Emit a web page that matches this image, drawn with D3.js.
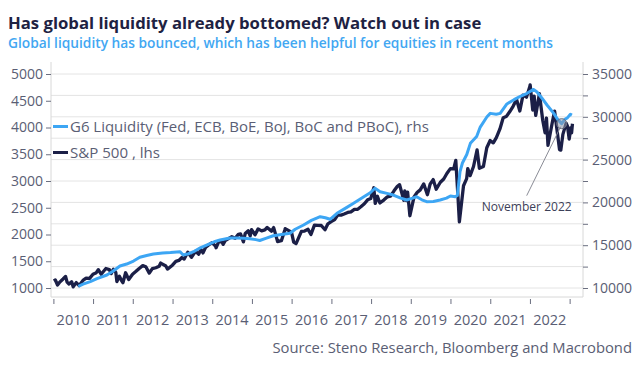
<!DOCTYPE html>
<html><head><meta charset="utf-8">
<script src="https://cdn.jsdelivr.net/npm/d3@7"></script>
<style>
body{margin:0;background:#fff;}
svg{display:block;font-family:'Open Sans','Noto Sans',sans-serif;}
</style>
</head><body>
<svg id="chart" width="642" height="367"></svg>
<script>
const titleText = "Has global liquidity already bottomed? Watch out in case";
const subtitleText = "Global liquidity has bounced, which has been helpful for equities in recent months";
const sourceText = "Source: Steno Research, Bloomberg and Macrobond";
const legendLabels = ["G6 Liquidity (Fed, ECB, BoE, BoJ, BoC and PBoC), rhs", "S&P 500 , lhs"];
const leftTicks = [1000,1500,2000,2500,3000,3500,4000,4500,5000];
const rightTicks = [10000,15000,20000,25000,30000,35000];
const rightMinorTicks = [10000,12500,15000,17500,20000,22500,25000,27500,30000,32500,35000];
const yearTicks = [2010,2011,2012,2013,2014,2015,2016,2017,2018,2019,2020,2021,2022];

// S&P 500 (lhs)
const spx = [
["2010-01-04",1133],["2010-01-19",1150],["2010-02-08",1056],["2010-02-26",1104],["2010-03-31",1169],["2010-04-23",1217],["2010-05-07",1111],["2010-05-25",1074],["2010-06-18",1117],["2010-07-02",1022],["2010-07-30",1101],["2010-08-26",1047],["2010-09-30",1141],["2010-10-29",1183],["2010-11-30",1180],["2010-12-31",1258],
["2011-01-31",1286],["2011-02-18",1343],["2011-03-16",1257],["2011-04-29",1364],["2011-05-31",1345],["2011-06-16",1268],["2011-07-07",1353],["2011-07-29",1292],["2011-08-08",1119],["2011-08-31",1219],["2011-09-22",1129],["2011-10-03",1099],["2011-10-27",1285],["2011-11-25",1159],["2011-12-30",1258],
["2012-01-31",1312],["2012-02-29",1366],["2012-04-02",1419],["2012-04-30",1398],["2012-06-01",1278],["2012-06-29",1362],["2012-07-31",1379],["2012-08-31",1407],["2012-09-14",1466],["2012-10-31",1412],["2012-11-15",1353],["2012-12-31",1426],
["2013-01-31",1498],["2013-02-28",1515],["2013-03-28",1569],["2013-04-18",1541],["2013-05-21",1669],["2013-06-24",1573],["2013-07-31",1686],["2013-08-30",1633],["2013-09-18",1725],["2013-10-08",1656],["2013-10-31",1757],["2013-11-29",1806],["2013-12-31",1848],
["2014-01-31",1783],["2014-02-05",1752],["2014-02-28",1859],["2014-03-31",1872],["2014-04-11",1816],["2014-04-30",1884],["2014-05-30",1924],["2014-06-30",1960],["2014-07-31",1931],["2014-08-29",2003],["2014-09-18",2011],["2014-10-15",1862],["2014-10-31",2018],["2014-11-28",2068],["2014-12-16",1973],["2014-12-29",2091],
["2015-01-30",1995],["2015-02-27",2105],["2015-03-31",2068],["2015-04-30",2086],["2015-05-21",2131],["2015-06-30",2063],["2015-07-20",2129],["2015-08-25",1868],["2015-09-29",1884],["2015-10-30",2079],["2015-11-03",2109],["2015-12-31",2044],
["2016-01-20",1859],["2016-02-11",1829],["2016-03-31",2060],["2016-04-29",2065],["2016-05-31",2097],["2016-06-27",2001],["2016-07-29",2174],["2016-08-31",2171],["2016-09-30",2168],["2016-11-03",2088],["2016-11-30",2199],["2016-12-30",2239],
["2017-01-31",2279],["2017-02-28",2364],["2017-03-31",2363],["2017-04-28",2384],["2017-05-31",2412],["2017-06-30",2423],["2017-07-31",2470],["2017-08-31",2472],["2017-09-29",2519],["2017-10-31",2575],["2017-11-30",2648],["2017-12-29",2674],
["2018-01-26",2873],["2018-02-08",2581],["2018-02-28",2714],["2018-03-23",2588],["2018-04-30",2648],["2018-05-31",2705],["2018-06-29",2718],["2018-07-31",2816],["2018-08-31",2902],["2018-09-20",2931],["2018-10-29",2641],["2018-11-07",2814],["2018-11-23",2633],["2018-12-03",2790],["2018-12-24",2351],
["2019-01-31",2704],["2019-02-28",2784],["2019-03-29",2834],["2019-04-30",2946],["2019-06-03",2744],["2019-06-28",2942],["2019-07-26",3026],["2019-08-23",2847],["2019-09-30",2977],["2019-10-31",3038],["2019-11-29",3141],["2019-12-31",3231],
["2020-01-31",3226],["2020-02-19",3386],["2020-03-09",2747],["2020-03-23",2237],["2020-04-30",2912],["2020-05-29",3044],["2020-06-08",3232],["2020-06-30",3100],["2020-07-31",3271],["2020-09-02",3580],["2020-09-23",3237],["2020-10-30",3270],["2020-11-30",3622],["2020-12-31",3756],
["2021-01-29",3714],["2021-02-26",3811],["2021-03-31",3973],["2021-04-30",4181],["2021-05-28",4204],["2021-06-30",4298],["2021-07-30",4395],["2021-08-31",4523],["2021-09-30",4308],["2021-10-29",4605],["2021-11-30",4567],["2021-12-31",4766],
["2022-01-03",4797],["2022-01-27",4326],["2022-02-09",4587],["2022-02-23",4225],["2022-03-29",4632],["2022-04-29",4132],["2022-05-20",3901],["2022-06-02",4177],["2022-06-16",3667],["2022-07-29",4130],["2022-08-16",4305],["2022-09-30",3586],["2022-10-12",3577],["2022-10-31",3872],["2022-11-30",4080],["2022-12-13",4019],["2022-12-28",3783],["2023-01-13",3999],["2023-01-19",3899],["2023-01-27",4070]
];

// G6 Liquidity (rhs)
const liquidity = [
["2010-08-18",10200],["2010-10-01",10450],["2010-12-06",10740],["2011-02-06",11100],["2011-05-08",11520],["2011-07-02",11950],["2011-09-05",12570],["2011-11-06",12800],
["2012-01-08",13150],["2012-03-06",13590],["2012-05-08",13800],["2012-07-09",13970],["2012-10-01",14100],["2012-12-13",14150],
["2013-03-11",14240],["2013-04-09",13850],["2013-05-27",14000],["2013-07-13",14240],["2013-09-13",14700],["2013-11-10",15020],
["2014-01-19",15400],["2014-03-14",15600],["2014-06-13",15850],["2014-08-14",15850],["2014-10-19",15800],["2014-12-13",15750],
["2015-02-06",15650],["2015-03-14",15550],["2015-05-08",15800],["2015-07-16",16100],["2015-10-01",16250],["2015-12-17",16390],
["2016-02-03",16860],["2016-04-20",17360],["2016-07-01",17900],["2016-09-20",18330],["2016-11-06",18200],["2016-12-20",18030],
["2017-02-21",18730],["2017-05-08",19300],["2017-07-24",19900],["2017-10-19",20600],["2017-12-24",21130],
["2018-02-06",21650],["2018-03-25",21250],["2018-05-27",21050],["2018-07-24",20860],["2018-10-01",20500],["2018-11-24",20280],
["2019-01-19",20500],["2019-02-24",20670],["2019-04-13",20300],["2019-05-27",20080],["2019-07-28",20100],["2019-09-28",20280],["2019-11-25",20500],
["2020-01-01",20750],["2020-02-14",20670],["2020-03-04",20800],["2020-03-29",23600],["2020-04-20",24600],["2020-05-30",25600],["2020-07-02",26900],["2020-08-29",27700],["2020-10-01",28800],["2020-12-02",30000],
["2021-01-01",30400],["2021-02-25",30300],["2021-04-02",30400],["2021-06-03",31500],["2021-08-08",32000],["2021-10-05",32400],["2021-12-06",32750],
["2022-02-03",33200],["2022-03-07",32900],["2022-04-20",32200],["2022-06-07",31380],["2022-08-08",30400],["2022-09-13",29700],["2022-10-20",29200],["2022-11-18",29700],["2022-12-13",29900],["2023-01-08",30300],["2023-01-22",30200]
];

const annotationPoint = {date:"2022-10-20", value:29200, label:"November 2022"};

const colors = {spx:"#1b1f47", liq:"#3da6f4", axisText:"#5a5e74", grid:"#e4e4e4", frame:"#d8d8d8", tick:"#6b6f80", title:"#1e2242", subtitle:"#42a7f2"};

const parse = d3.timeParse("%Y-%m-%d");
const svg = d3.select("#chart");
const plot = {left:51, right:583, top:62, bottom:297};

const x = d3.scaleTime().domain([parse("2009-12-10"), parse("2023-05-04")]).range([plot.left, plot.right]);
const yL = d3.scaleLinear().domain([831.8, 5224.3]).range([plot.bottom, plot.top]);
const yR = d3.scaleLinear().domain([8948.6, 36401.9]).range([plot.bottom, plot.top]);

function fit(sel, target){
  const n = sel.node();
  const w = n.getComputedTextLength();
  const fs = parseFloat(sel.attr("font-size"));
  sel.attr("font-size", (fs*target/w).toFixed(2));
}

// Titles
fit(svg.append("text").attr("x",8).attr("y",28.5).attr("font-size",18).attr("font-weight",700)
  .attr("fill",colors.title).text(titleText), 474);
fit(svg.append("text").attr("x",8).attr("y",47.5).attr("font-size",13).attr("font-weight",600)
  .attr("fill",colors.subtitle).text(subtitleText), 545);

// Gridlines
svg.append("g").selectAll("line").data(rightMinorTicks).join("line")
  .attr("x1",plot.left).attr("x2",plot.right)
  .attr("y1",d=>yR(d)).attr("y2",d=>yR(d))
  .attr("stroke",colors.grid).attr("stroke-width",1);

// Frame
svg.append("path").attr("d",`M${plot.left},${plot.top}V${plot.bottom}H${plot.right}V${plot.top}`)
  .attr("fill","none").attr("stroke",colors.frame).attr("stroke-width",1);

// Left axis
const gL = svg.append("g").attr("transform",`translate(${plot.left},0)`)
  .call(d3.axisLeft(yL).tickValues(leftTicks).tickSize(5).tickPadding(3).tickFormat(d3.format("d")));
// Right axis
const gR = svg.append("g").attr("transform",`translate(${plot.right},0)`)
  .call(d3.axisRight(yR).tickValues(rightMinorTicks).tickSize(5).tickPadding(4)
    .tickFormat(d => rightTicks.includes(d) ? d3.format("d")(d) : ""));
// Bottom axis: ticks at year starts, labels mid-year
const yearDates = yearTicks.map(y=>new Date(y,0,1)).concat([new Date(2023,0,1)]);
const gB = svg.append("g").attr("transform",`translate(0,${plot.bottom+2})`)
  .call(d3.axisBottom(x).tickValues(yearDates).tickSize(5).tickFormat(""));
svg.append("g").selectAll("text").data(yearTicks).join("text")
  .attr("x",d=>x(new Date(d,6,2))).attr("y",324.5).attr("text-anchor","middle")
  .attr("font-size",14.5).attr("fill",colors.axisText).text(d=>d);

[gL,gR,gB].forEach(g=>{
  g.select(".domain").remove();
  g.selectAll(".tick line").attr("stroke",colors.tick);
  g.selectAll(".tick text").attr("font-size",14).attr("fill",colors.axisText).attr("font-family","'Open Sans',sans-serif");
});

// Lines
const lineL = d3.line().x(d=>x(parse(d[0]))).y(d=>yL(d[1]));
const lineR = d3.line().x(d=>x(parse(d[0]))).y(d=>yR(d[1]));
svg.append("path").datum(spx).attr("d",lineL).attr("fill","none")
  .attr("stroke",colors.spx).attr("stroke-width",3.3).attr("stroke-linejoin","round");
svg.append("path").datum(liquidity).attr("d",lineR).attr("fill","none")
  .attr("stroke",colors.liq).attr("stroke-width",3).attr("stroke-linejoin","round");

// Legend
const legendColors = [colors.liq, colors.spx];
const legendY = [126.5, 152.5];
const legendW = [359, 90];
legendLabels.forEach((lab,i)=>{
  svg.append("line").attr("x1",53).attr("x2",68).attr("y1",legendY[i]).attr("y2",legendY[i])
    .attr("stroke",legendColors[i]).attr("stroke-width",3);
  fit(svg.append("text").attr("x",70).attr("y",legendY[i]).attr("dy","0.36em")
    .attr("font-size",15).attr("fill",colors.axisText).text(lab), legendW[i]);
});

// Annotation
const ax = x(parse(annotationPoint.date)), ay = yR(annotationPoint.value);
svg.append("line").attr("x1",ax-35).attr("y1",ay+72).attr("x2",ax-1).attr("y2",ay+3)
  .attr("stroke","#8a8c96").attr("stroke-width",1);
svg.append("circle").attr("cx",ax).attr("cy",ay).attr("r",5)
  .attr("fill","#8d96aa").attr("fill-opacity",0.55).attr("stroke","#6c7180").attr("stroke-width",1);
fit(svg.append("text").attr("x",ax-80).attr("y",ay+87).attr("font-size",12.5)
  .attr("fill","#3c4058").text(annotationPoint.label), 90);

// Source
const src = svg.append("text").attr("x",632).attr("y",353).attr("text-anchor","end")
  .attr("font-size",15).attr("fill",colors.axisText).text(sourceText);
fit(src, 360);
</script>
</body></html>
